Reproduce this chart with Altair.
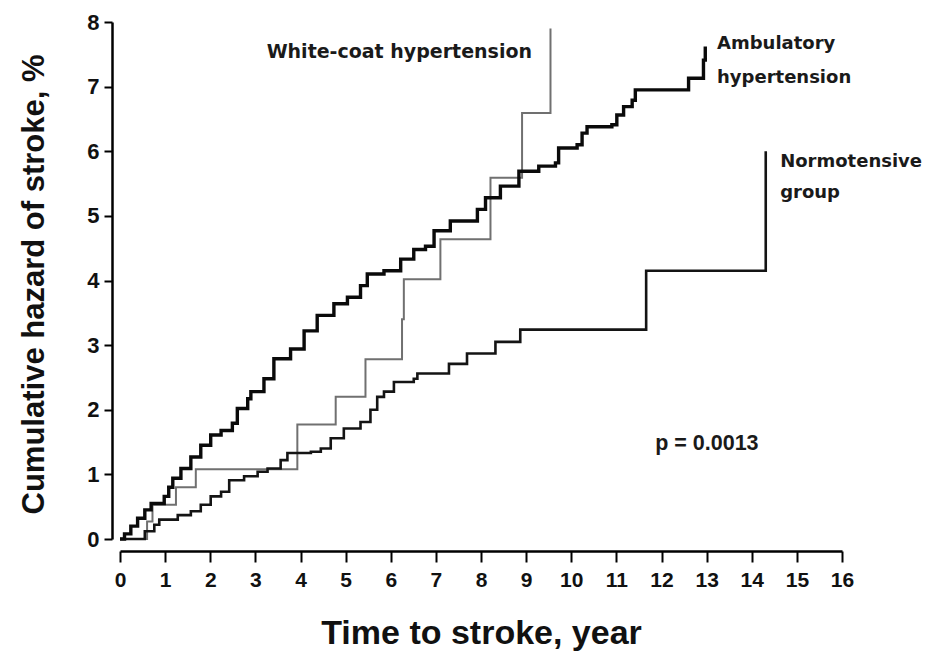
import altair as alt
import pandas as pd

# ---- data (time in years, cumulative hazard %) ----
amb_t = [0, 0.10, 0.24, 0.39, 0.55, 0.69, 0.98, 1.08, 1.17, 1.35, 1.57, 1.79, 2.01, 2.24,
         2.49, 2.60, 2.83, 2.90, 3.19, 3.41, 3.78, 4.08, 4.37, 4.74, 5.04, 5.33, 5.48,
         5.85, 6.22, 6.51, 6.77, 6.96, 7.32, 7.92, 8.10, 8.43, 8.84, 9.28, 9.65, 9.72,
         10.13, 10.24, 10.35, 10.90, 11.01, 11.16, 11.35, 11.42, 12.60, 12.93, 12.97]
amb_v = [0, 0.08, 0.20, 0.32, 0.45, 0.55, 0.66, 0.80, 0.94, 1.09, 1.27, 1.45, 1.61, 1.68,
         1.79, 2.02, 2.17, 2.28, 2.48, 2.79, 2.94, 3.22, 3.46, 3.64, 3.74, 3.92, 4.10,
         4.15, 4.33, 4.48, 4.53, 4.77, 4.92, 5.10, 5.28, 5.46, 5.69, 5.77, 5.82, 6.05,
         6.10, 6.28, 6.38, 6.41, 6.56, 6.69, 6.79, 6.95, 7.13, 7.41, 7.62]

norm_t = [0, 0.55, 0.76, 0.87, 1.28, 1.57, 1.79, 2.01, 2.24, 2.42, 2.75, 3.05, 3.27, 3.56,
          3.71, 4.23, 4.45, 4.67, 4.96, 5.33, 5.55, 5.70, 5.85, 6.07, 6.51, 6.59, 7.29,
          7.69, 8.32, 8.87, 11.66, 14.31]
norm_v = [0, 0.12, 0.22, 0.30, 0.37, 0.43, 0.53, 0.66, 0.73, 0.91, 0.97, 1.04, 1.09, 1.22,
          1.33, 1.35, 1.40, 1.56, 1.71, 1.81, 2.00, 2.20, 2.28, 2.43, 2.48, 2.56, 2.71,
          2.87, 3.05, 3.24, 4.15, 6.00]

wc_t = [0, 0.60, 0.72, 1.24, 1.68, 3.93, 4.78, 5.44, 6.25, 6.29, 7.10, 8.21, 8.91, 9.54]
wc_v = [0, 0.27, 0.53, 0.80, 1.08, 1.77, 2.20, 2.78, 3.40, 4.02, 4.64, 5.59, 6.59, 7.90]

x_ticks = list(range(0, 17))
y_ticks = [i * 0.5 for i in range(0, 17)]

label_text = ["Ambulatory", "hypertension", "Normotensive", "group"]
label_t = [13.23, 13.23, 14.63, 14.63]
label_v = [7.66, 7.14, 5.84, 5.36]

wc_label = ["White-coat hypertension"]
wc_label_t = [9.13]
wc_label_v = [7.54]

p_label = ["p = 0.0013"]
p_label_t = [11.86]
p_label_v = [1.47]


def frame(name, ts, vs):
    return pd.DataFrame({"group": name, "t": ts, "v": vs})


df_amb = frame("Ambulatory hypertension", amb_t, amb_v)
df_norm = frame("Normotensive group", norm_t, norm_v)
df_wc = frame("White-coat hypertension", wc_t, wc_v)

x_scale = alt.Scale(domain=[0, 16], nice=False, zero=False)
y_scale = alt.Scale(domain=[0, 8], nice=False)

FONT = "Liberation Sans"

x_axis = alt.Axis(
    values=x_ticks, format="d", offset=12, grid=False,
    domainColor="black", domainWidth=2.5, tickColor="black", tickWidth=2, tickSize=11,
    labelFont=FONT, labelFontSize=21, labelFontWeight="bold", labelColor="#111",
    labelPadding=7, labelFlush=False, labelOverlap=False,
    title="Time to stroke, year", titleFont=FONT, titleFontSize=34,
    titleFontWeight="bold", titleColor="#111", titleBaseline="alphabetic", titleY=92,
)
y_axis = alt.Axis(
    values=y_ticks, offset=8, grid=False,
    labelExpr="datum.value % 1 == 0 ? format(datum.value, 'd') : ''",
    domainColor="black", domainWidth=2.5, tickColor="black", tickWidth=2, tickSize=8,
    labelFont=FONT, labelFontSize=22, labelFontWeight="bold", labelColor="#111",
    labelPadding=5, labelFlush=False, labelOverlap=False,
    title="Cumulative hazard of stroke, %", titleFont=FONT, titleFontSize=31,
    titleFontWeight="bold", titleColor="#111", titleBaseline="alphabetic",
    titleX=-69, titleY=262, titleAngle=270,
)


def step_line(df, color, width):
    return alt.Chart(df).mark_line(
        interpolate="step-after", color=color, strokeWidth=width,
        strokeJoin="miter", strokeCap="butt"
    ).encode(
        x=alt.X("t:Q", scale=x_scale, axis=x_axis),
        y=alt.Y("v:Q", scale=y_scale, axis=y_axis),
    )


wc_line = step_line(df_wc, "#707070", 2)
norm_line = step_line(df_norm, "#141414", 2.6)
amb_line = step_line(df_amb, "#0a0a0a", 3.4)

labels_df = pd.DataFrame({"text": label_text, "t": label_t, "v": label_v})
labels = alt.Chart(labels_df).mark_text(
    align="left", baseline="middle", font="DejaVu Sans", fontSize=18,
    fontWeight="bold", color="#1a1a1a"
).encode(x=alt.X("t:Q", scale=x_scale), y=alt.Y("v:Q", scale=y_scale), text="text:N")

wc_df = pd.DataFrame({"text": wc_label, "t": wc_label_t, "v": wc_label_v})
wc_text = alt.Chart(wc_df).mark_text(
    align="right", baseline="middle", font="DejaVu Sans", fontSize=19,
    fontWeight="bold", color="#1a1a1a"
).encode(x=alt.X("t:Q", scale=x_scale), y=alt.Y("v:Q", scale=y_scale), text="text:N")

p_df = pd.DataFrame({"text": p_label, "t": p_label_t, "v": p_label_v})
p_text = alt.Chart(p_df).mark_text(
    align="left", baseline="middle", font=FONT, fontSize=21.5,
    fontWeight="bold", color="#1a1a1a"
).encode(x=alt.X("t:Q", scale=x_scale), y=alt.Y("v:Q", scale=y_scale), text="text:N")

chart = alt.layer(wc_line, norm_line, amb_line, labels, wc_text, p_text).properties(
    width=722, height=517,
    autosize=alt.AutoSizeParams(type="none"),
    padding={"left": 120, "top": 22, "right": 101, "bottom": 113},
    background="white",
).configure_view(stroke=None)

chart.save("out.html", embed_options={"renderer": "svg", "actions": False})
